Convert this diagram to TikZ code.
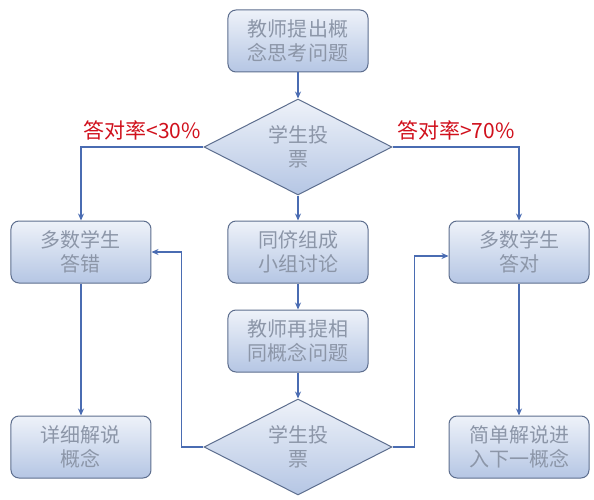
\documentclass[tikz,border=0pt]{standalone}
\usepackage{fontspec}
\setmainfont{Noto Sans CJK SC}
\usepackage{tikz}
\usetikzlibrary{positioning,shapes.geometric,arrows.meta}
\definecolor{boxtop}{HTML}{EEF2F9}
\definecolor{boxbot}{HTML}{B5C6E4}
\definecolor{boxline}{HTML}{5D6E8E}
\definecolor{boxtext}{HTML}{8C96A8}
\definecolor{flowblue}{HTML}{4A6CB2}
\definecolor{lblred}{HTML}{D0101C}

\begin{document}
\begin{tikzpicture}[node distance=26pt,
  stepbox/.style={draw=boxline,line width=1pt,rounded corners=8pt,top color=boxtop,
    bottom color=boxbot,minimum width=140pt,minimum height=62pt,align=center,
    text=boxtext,font=\fontsize{20pt}{24pt}\selectfont,inner sep=0pt},
  vote/.style={diamond,aspect=2,draw=boxline,line width=1pt,top color=boxtop,
    bottom color=boxbot,minimum width=188pt,minimum height=96pt,align=center,
    text=boxtext,font=\fontsize{20pt}{24pt}\selectfont,inner sep=0pt},
  flow/.style={draw=flowblue,line width=1.8pt,-{Stealth[length=7pt,width=6pt]}},
  rate/.style={text=lblred,font=\fontsize{21pt}{24pt}\selectfont,above=3pt}]
\useasboundingbox (-298pt,41pt) rectangle (296pt,-459pt);
\node[stepbox] (ask) at (0,0) {教师提出概\\念思考问题};
\node[vote,below=26pt of ask] (vote1) {学生投\\票};
\node[stepbox,below=25pt of vote1] (discuss) {同侪组成\\小组讨论};
\node[stepbox,left=76pt of discuss] (wrong) {多数学生\\答错};
\node[stepbox,right=80pt of discuss] (right) {多数学生\\答对};
\node[stepbox,below=26pt of discuss] (reask) {教师再提相\\同概念问题};
\node[vote,below=26pt of reask] (vote2) {学生投\\票};
\node[stepbox,below=132pt of wrong] (detail) {详细解说\\概念};
\node[stepbox,below=132pt of right] (next) {简单解说进\\入下一概念};
\draw[flow] (ask) -- (vote1);
\draw[flow] (vote1) -- (discuss);
\draw[flow] (discuss) -- (reask);
\draw[flow] (reask) -- (vote2);
\draw[flow] (vote1.west) -| node[rate,pos=0.25] {答对率<30\%} (wrong.north);
\draw[flow] (vote1.east) -| node[rate,pos=0.25] {答对率>70\%} (right.north);
\draw[flow] (wrong) -- (detail);
\draw[flow] (right) -- (next);
\draw[flow] (vote2.west) -- ++(-22pt,0) |- (wrong.east);
\draw[flow] (vote2.east) -- ++(22pt,0) |- ([yshift=-4pt]right.west);
\end{tikzpicture}
\end{document}
